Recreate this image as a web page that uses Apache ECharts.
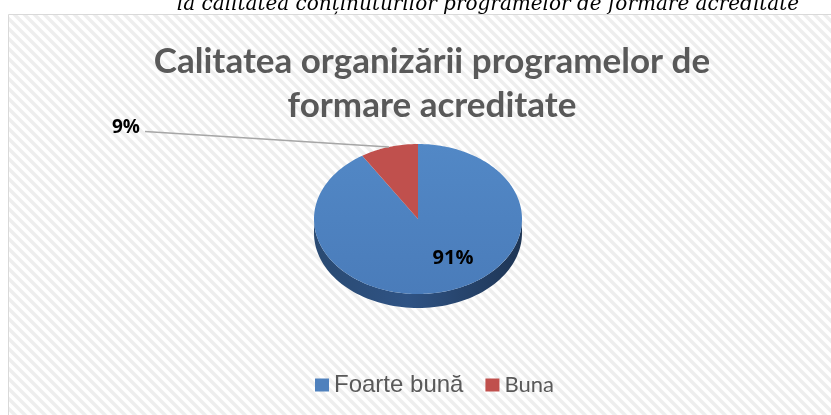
<!DOCTYPE html>
<html>
<head>
<meta charset="utf-8">
<script src="https://cdn.jsdelivr.net/npm/echarts@6/dist/echarts.min.js"></script>
<style>
  html, body { margin: 0; padding: 0; background: #fff; }
  #chart { width: 831px; height: 415px; }
</style>
</head>
<body>
<div id="chart"></div>
<script>
// data
const categories = ['Foarte bună', 'Buna'];
const shares = [91, 9];
const sliceLabels = ['91%', '9%'];
const sliceColors = ['#4F81BD', '#C0504D'];

const chartTitle = 'Calitatea organizării programelor de\nformare acreditate';
const captionAbove = 'la calitatea conținuturilor programelor de formare acreditate';

// ellipse layout of the tilted pie
const CX = 418, CY = 219, RX = 104, RY = 75, DEPTH = 14;

function pt(theta, dy) {
  return [CX + RX * Math.sin(theta), CY - RY * Math.cos(theta) + (dy || 0)];
}

// striped fill for the chart area
const stripe = document.createElement('canvas');
stripe.width = 10; stripe.height = 10;
(function () {
  const c = stripe.getContext('2d');
  c.fillStyle = '#ffffff';
  c.fillRect(0, 0, 10, 10);
  c.strokeStyle = '#eeeeee';
  c.lineWidth = 3.5;
  for (let k = -10; k <= 10; k += 10) {
    c.beginPath();
    c.moveTo(k - 5, -5);
    c.lineTo(k + 15, 15);
    c.stroke();
  }
})();

function sliceRender(k) {
  return function (params, api) {
    const total = shares.reduce((a, b) => a + b, 0);
    let before = 0;
    for (let i = 0; i < k; i++) before += shares[i];
    const v = api.value(0);
    const a0 = before / total * 2 * Math.PI;
    const a1 = (before + v) / total * 2 * Math.PI;
    const children = [];

    // visible side wall (front half)
    const s0 = Math.max(a0, Math.PI / 2), s1 = Math.min(a1, 3 * Math.PI / 2);
    if (s1 > s0) {
      const top = [], bottom = [];
      const n = 80;
      for (let i = 0; i <= n; i++) {
        const t = s0 + (s1 - s0) * i / n;
        top.push(pt(t));
        bottom.push(pt(t, DEPTH));
      }
      children.push({
        type: 'polygon',
        shape: { points: top.concat(bottom.reverse()) },
        style: {
          fill: new echarts.graphic.LinearGradient(0, 0, 1, 0, [
            { offset: 0, color: '#2a4a72' },
            { offset: 0.45, color: '#2f5384' },
            { offset: 1, color: '#1e3554' }
          ])
        }
      });
    }

    // top face
    const face = [[CX, CY]];
    const m = Math.max(10, Math.ceil((a1 - a0) / 0.02));
    for (let i = 0; i <= m; i++) face.push(pt(a0 + (a1 - a0) * i / m));
    const base = sliceColors[k];
    children.push({
      type: 'polygon',
      shape: { points: face },
      style: {
        fill: k === 0
          ? new echarts.graphic.LinearGradient(0, 0, 0, 1, [
              { offset: 0, color: '#5288c6' },
              { offset: 1, color: '#4a7cba' }
            ])
          : base
      }
    });

    // labels
    if (k === 0) {
      children.push({
        type: 'text',
        style: {
          x: CX + 35, y: CY + 39, text: sliceLabels[k],
          align: 'center', verticalAlign: 'middle',
          font: 'bold 20px "Open Sans", sans-serif', fill: '#000'
        }
      });
    } else {
      const mid = pt((a0 + a1) / 2);
      children.push({
        type: 'line',
        shape: { x1: 145, y1: 131.5, x2: mid[0], y2: mid[1] },
        style: { stroke: '#a6a6a6', lineWidth: 1.5 }
      });
      children.push({
        type: 'text',
        style: {
          x: 126, y: 128, text: sliceLabels[k],
          align: 'center', verticalAlign: 'middle',
          font: 'bold 19px "Open Sans", sans-serif', fill: '#000'
        }
      });
    }
    return { type: 'group', children: children };
  };
}

const chart = echarts.init(document.getElementById('chart'), null, { renderer: 'canvas' });
chart.setOption({
  backgroundColor: '#ffffff',
  animation: false,
  graphic: [
    {
      type: 'rect', z: -10, silent: true,
      shape: { x: 8.5, y: 14.5, width: 840, height: 420 },
      style: { fill: { image: stripe, repeat: 'repeat' }, stroke: '#d9d9d9', lineWidth: 1 }
    },
    {
      type: 'text', z: -5,
      style: {
        x: 488, y: 15, text: captionAbove,
        align: 'center', verticalAlign: 'bottom',
        font: 'italic 20px "DejaVu Serif", serif', fill: '#000'
      }
    }
  ],
  title: {
    text: chartTitle,
    left: 427, top: 35,
    textAlign: 'center',
    textStyle: {
      fontFamily: 'Lato', fontWeight: 'bold', fontSize: 35,
      color: '#595959', lineHeight: 44
    }
  },
  legend: {
    bottom: 13,
    left: 310,
    itemWidth: 14, itemHeight: 13, itemGap: 22,
    icon: 'rect',
    data: categories,
    formatter: function (name) {
      return name === categories[0] ? '{a|' + name + '}' : '{b|' + name + '}';
    },
    textStyle: {
      color: '#595959',
      rich: {
        a: { fontFamily: 'Liberation Sans', fontSize: 24, color: '#595959' },
        b: { fontFamily: 'Lato', fontSize: 22, color: '#595959' }
      }
    }
  },
  series: categories.map(function (name, k) {
    return {
      type: 'custom',
      name: name,
      coordinateSystem: 'none',
      itemStyle: { color: sliceColors[k] },
      renderItem: sliceRender(k),
      data: [shares[k]]
    };
  })
});
</script>
</body>
</html>
